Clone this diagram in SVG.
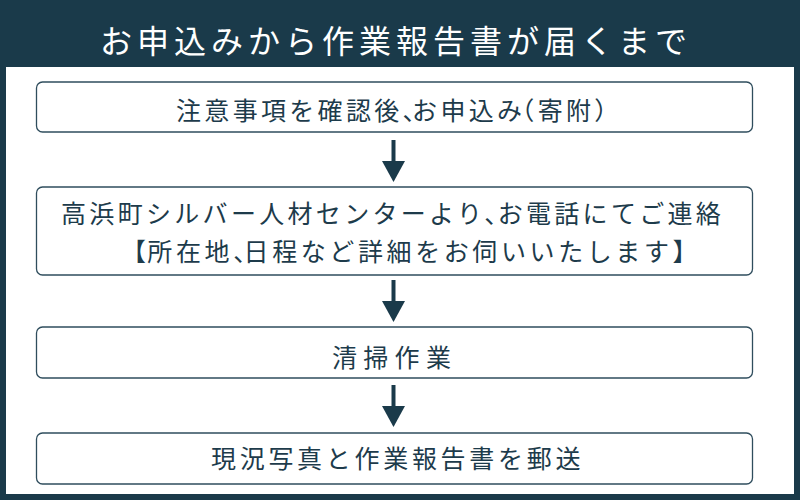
<svg xmlns="http://www.w3.org/2000/svg" width="800" height="500" viewBox="0 0 800 500">
<defs>
<style>
.frame{fill:#1a3a4a}
.panel{fill:#ffffff}
.box{fill:#ffffff;stroke:#2f4d5d;stroke-width:1.3}
.t{font-family:"Noto Sans CJK JP","Noto Sans",sans-serif;font-size:25px;fill:#1d3b4b;letter-spacing:3.3px}
.title{font-family:"Noto Sans CJK JP","Noto Sans",sans-serif;font-size:32px;fill:#ffffff;letter-spacing:5px}
.conn{stroke:#1a3a4a;stroke-width:4;fill:none}
</style>
<marker id="arrow" markerUnits="userSpaceOnUse" markerWidth="21" markerHeight="23" viewBox="0 -11.5 21 23" refX="0" refY="0" orient="auto">
<path d="M0,-11.5 L21,0 L0,11.5 Z" fill="#1a3a4a"/>
</marker>
</defs>
<rect class="frame" x="0" y="0" width="800" height="500"/>
<rect class="panel" x="6" y="67" width="788" height="427"/>
<g id="title">
<text class="title" x="100" y="53">お申込みから作業報告書が届くまで</text>
</g>
<g id="connectors">
<line class="conn" x1="393.5" y1="140" x2="393.5" y2="161" marker-end="url(#arrow)"/>
<line class="conn" x1="393.5" y1="280" x2="393.5" y2="301" marker-end="url(#arrow)"/>
<line class="conn" x1="393.5" y1="385" x2="393.5" y2="406" marker-end="url(#arrow)"/>
</g>
<g id="step1">
<rect class="box" x="36.5" y="82" width="716" height="50" rx="6"/>
<text class="t" x="176" y="120" dx="0 0 0 0 0 0 0 0 0 -18.7 0 0 0 -16">注意事項を確認後、お申込み（寄附）</text>
</g>
<g id="step2">
<rect class="box" x="36.5" y="187" width="716" height="88" rx="6"/>
<text class="t" x="61" y="223" dx="0 0 0 0 0 0 0 0 0 0 0 0 0 0 0 0 -14.8">高浜町シルバー人材センターより、お電話にてご連絡</text>
<text class="t" x="121" y="261" dx="0 -2.3 0 0 0 -18.2" style="letter-spacing:3.6px">【所在地、日程など詳細をお伺いいたします】</text>
</g>
<g id="step3">
<rect class="box" x="36.5" y="327" width="716" height="51" rx="6"/>
<text class="t" x="332" y="367" style="letter-spacing:6.3px">清掃作業</text>
</g>
<g id="step4">
<rect class="box" x="36.5" y="433" width="716" height="51" rx="6"/>
<text class="t" x="211" y="468" style="letter-spacing:3.7px">現況写真と作業報告書を郵送</text>
</g>
</svg>
